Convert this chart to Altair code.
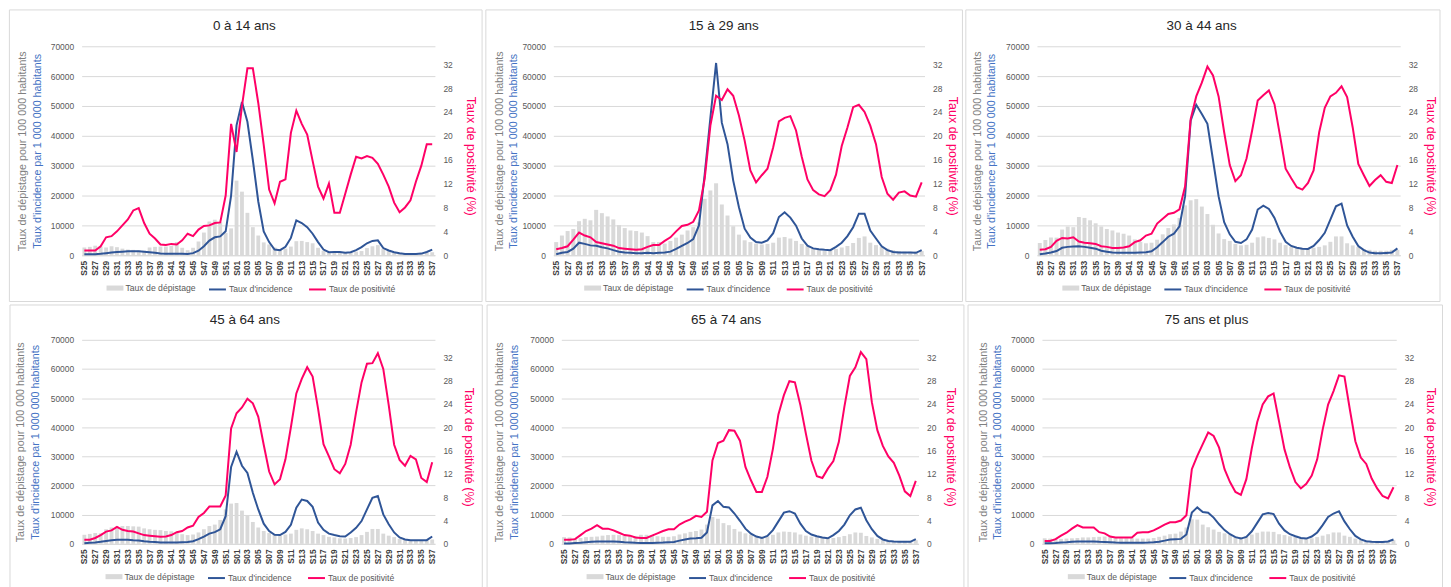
import altair as alt
import pandas as pd

FONT = "Liberation Sans"
GRAY_BAR = "#d9d9d9"
BLUE = "#2f5597"
BLUE_TITLE = "#4472c4"
PINK = "#ff0066"
TXT = "#595959"
TXT_TITLE = "#7f7f7f"

WEEKS = [f"2021-S{w:02d}" for w in range(25, 53)] + [f"2022-S{w:02d}" for w in range(1, 38)]
TICK_WEEKS = WEEKS[::2]

SERIES_DEP = "Taux de dépistage"
SERIES_INC = "Taux d'incidence"
SERIES_POS = "Taux de positivité"

TITLES = ["0 à 14 ans", "15 à 29 ans", "30 à 44 ans", "45 à 64 ans", "65 à 74 ans", "75 ans et plus"]

# ---- 0 à 14 ans
dep_0_14 = [2600, 2800, 3200, 2900, 2600, 3000, 2700, 2200, 1900, 1800,
            1600, 1500, 2600, 2800, 2900, 2900, 3200, 4400, 2500, 1700,
            2500, 4600, 7600, 11300, 11900, 11000, 7500, 9000, 25000, 21300,
            14200, 9400, 6600, 4300, 3600, 2600, 2000, 2200, 2900, 4700,
            4800, 4400, 4000, 2500, 1500, 1200, 1000, 1000, 900, 1000,
            1200, 1400, 2400, 3000, 3400, 2200, 1500, 1100, 800, 700,
            600, 600, 700, 800, 1000]
inc_0_14 = [300, 300, 350, 500, 700, 900, 1100, 1200, 1300, 1300,
            1300, 1200, 1000, 800, 600, 500, 500, 500, 500, 400,
            700, 1500, 3000, 4900, 6000, 6300, 8000, 20000, 43500, 51300,
            44700, 31900, 18000, 8000, 4400, 1900, 1700, 2800, 5800, 11700,
            10800, 9400, 7200, 4400, 1900, 1000, 1100, 1100, 800, 1000,
            1700, 2700, 4000, 4800, 5000, 2400, 1600, 1000, 700, 450,
            450, 450, 550, 1100, 1900]
pos_0_14 = [0.8, 0.8, 0.8, 1.5, 3.0, 3.2, 4.0, 5.0, 6.0, 7.5,
            7.9, 5.4, 3.6, 2.8, 1.8, 1.7, 1.9, 1.8, 2.5, 3.6,
            3.2, 4.3, 4.9, 5.0, 5.4, 5.5, 10.0, 22.0, 17.3, 25.0,
            31.3, 31.3, 25.5, 18.5, 11.0, 8.7, 12.3, 12.7, 20.5, 24.2,
            22.0, 20.2, 15.8, 11.5, 9.5, 12.0, 7.1, 7.1, 10.3, 13.5,
            16.5, 16.2, 16.6, 16.3, 15.3, 13.5, 11.5, 8.8, 7.2, 8.0,
            9.2, 12.3, 15.0, 18.6, 18.6]

# ---- 15 à 29 ans
dep_15_29 = [4400, 6600, 8100, 8800, 11400, 12200, 11700, 15200, 14100, 13000,
             12000, 10100, 9100, 8300, 8100, 7600, 6400, 4400, 4400, 3900,
             4800, 5900, 6900, 8300, 9400, 11000, 18900, 21700, 24100, 17000,
             13300, 9700, 6900, 5000, 4400, 3900, 3600, 3800, 4200, 5900,
             6100, 5600, 4800, 3800, 3000, 2200, 1900, 1400, 1700, 2100,
             2600, 3100, 4100, 5800, 6300, 4200, 3400, 2800, 2200, 1700,
             1400, 1200, 1200, 1200, 1400]
inc_15_29 = [300, 800, 1100, 2200, 4200, 3800, 3300, 3200, 2700, 2300,
             1700, 1200, 900, 800, 700, 700, 800, 700, 800, 900,
             1200, 2100, 3100, 4100, 5400, 10000, 27000, 46000, 64400, 44400,
             37200, 25000, 16100, 8900, 5900, 4400, 4200, 5000, 7400, 12800,
             14400, 12600, 9900, 5600, 3200, 2300, 2000, 1800, 1700, 2800,
             4200, 6400, 9400, 13900, 13900, 8300, 5600, 3000, 1700, 1100,
             900, 900, 900, 800, 1700]
pos_15_29 = [1.0, 1.2, 1.5, 2.6, 3.8, 3.3, 3.0, 2.2, 2.0, 1.8,
             1.6, 1.2, 1.1, 1.0, 0.9, 1.0, 1.4, 1.7, 1.7, 2.4,
             3.0, 4.0, 4.9, 5.1, 5.6, 7.5, 12.8, 21.7, 26.7, 26.0,
             27.8, 26.7, 23.4, 19.2, 14.2, 12.2, 13.4, 14.5, 18.1, 22.4,
             23.0, 23.3, 20.9, 16.5, 12.7, 10.9, 10.2, 9.9, 10.9, 13.5,
             18.3, 21.4, 24.8, 25.2, 24.0, 21.7, 18.6, 13.1, 10.3, 9.3,
             10.5, 10.7, 10.0, 9.8, 12.2]

# ---- 30 à 44 ans
dep_30_44 = [4100, 5100, 5900, 5900, 8600, 9600, 9400, 12800, 12500, 11700,
             10700, 9600, 8800, 8300, 7600, 7200, 6600, 5300, 4500, 4000,
             4200, 5200, 7000, 9100, 10300, 12500, 16700, 18400, 18800, 16300,
             13800, 10200, 7300, 5400, 4800, 3800, 3300, 3500, 4200, 6000,
             6300, 5800, 5300, 4200, 3400, 2900, 2700, 2200, 2300, 2500,
             2800, 3300, 4500, 6300, 6300, 4000, 3300, 2800, 2100, 1800,
             1500, 1500, 1500, 1800, 1800]
inc_30_44 = [300, 550, 900, 1400, 2500, 2800, 2900, 3000, 2800, 2500,
             2200, 1500, 1200, 900, 800, 800, 800, 800, 900, 1000,
             1300, 2700, 4400, 6200, 7200, 9700, 19700, 45100, 50400, 47300,
             44000, 31900, 19700, 11100, 7000, 4500, 4100, 5300, 8600, 15300,
             16600, 15500, 12500, 7900, 4500, 3100, 2500, 2200, 2100, 3100,
             5100, 7500, 11900, 16400, 17300, 10000, 6200, 3100, 1700, 900,
             660, 660, 770, 900, 2300]
pos_30_44 = [0.9, 1.0, 1.4, 2.4, 2.9, 2.8, 3.0, 2.3, 2.1, 2.0,
             1.9, 1.5, 1.4, 1.2, 1.2, 1.3, 1.5, 2.2, 2.5, 3.3,
             3.6, 5.3, 6.1, 6.9, 7.1, 7.7, 11.5, 22.8, 26.6, 28.9,
             31.6, 30.1, 26.6, 20.6, 15.1, 12.4, 13.4, 16.2, 20.9, 25.9,
             26.8, 27.6, 25.3, 20.0, 14.5, 12.9, 11.4, 11.0, 12.1, 14.2,
             20.6, 24.7, 26.6, 27.2, 28.3, 26.5, 21.4, 15.3, 13.4, 11.6,
             12.6, 13.4, 12.3, 12.1, 15.1]

# ---- 45 à 64 ans
dep_45_64 = [3100, 3400, 3700, 3600, 5000, 5600, 5900, 6100, 6100, 6000,
             5900, 5300, 5000, 4800, 4700, 4400, 4300, 3700, 3300, 3000,
             3200, 3900, 5000, 6100, 6600, 8200, 11800, 13800, 14000, 11400,
             9800, 7500, 5600, 4400, 3700, 3100, 2800, 3200, 3500, 4800,
             5300, 5000, 4400, 3500, 3000, 2400, 2200, 1900, 1800, 2000,
             2300, 3000, 4100, 5100, 5100, 3500, 2800, 2300, 1700, 1400,
             1200, 1200, 1200, 1200, 1500]
inc_45_64 = [200, 350, 450, 700, 1000, 1250, 1400, 1400, 1400, 1250,
             1150, 900, 700, 600, 450, 450, 450, 450, 550, 650,
             900, 1600, 2500, 3500, 4000, 5000, 9500, 26400, 31600, 26800,
             24300, 17500, 11800, 6900, 4400, 3100, 3000, 4100, 6500, 12400,
             15200, 14700, 12700, 7300, 4800, 3500, 3000, 2600, 2500, 3900,
             5500, 7800, 11800, 15800, 16400, 10100, 6700, 3900, 2200, 1500,
             1250, 1250, 1250, 1250, 2500]
pos_45_64 = [0.7, 0.7, 1.0, 1.5, 2.1, 2.3, 2.9, 2.4, 2.2, 2.1,
             1.8, 1.5, 1.4, 1.3, 1.2, 1.25, 1.5, 2.0, 2.2, 2.8,
             3.1, 4.6, 5.3, 6.4, 6.4, 6.4, 8.3, 19.8, 22.4, 23.4,
             24.9, 24.1, 21.8, 17.0, 12.4, 10.2, 11.1, 14.5, 20.0, 25.8,
             28.3, 30.3, 28.7, 23.2, 17.1, 15.0, 12.8, 12.1, 13.7, 17.0,
             22.6, 27.7, 30.9, 31.0, 32.7, 30.0, 23.8, 17.0, 14.4, 13.4,
             15.1, 14.5, 11.3, 10.6, 14.0]

# ---- 65 à 74 ans
dep_65_74 = [2300, 2200, 1900, 2000, 2300, 2400, 2500, 2800, 3000, 3100,
             3000, 2700, 2600, 2700, 3100, 3100, 3000, 2600, 2400, 2400,
             2600, 3200, 3600, 4100, 4400, 4900, 6600, 9200, 8600, 7100,
             6400, 5100, 4200, 3600, 3200, 2600, 2400, 2500, 3100, 3900,
             4200, 4100, 3900, 3200, 2800, 2500, 2400, 2200, 2000, 2000,
             2300, 2700, 3300, 3900, 3800, 2700, 2200, 1700, 1250, 1000,
             1000, 1000, 1000, 1000, 1250]
inc_65_74 = [100, 150, 250, 350, 550, 700, 800, 800, 800, 800,
             700, 550, 450, 350, 300, 300, 300, 400, 450, 550,
             650, 1100, 1500, 1800, 1900, 2100, 3900, 13200, 14700, 12700,
             12500, 10400, 7900, 5200, 3500, 2500, 2000, 2700, 4700, 7700,
             10700, 11200, 10400, 6900, 4400, 3200, 2600, 2200, 1900, 3000,
             4400, 6600, 9800, 11800, 12400, 8100, 5000, 2700, 1500, 1000,
             800, 700, 700, 700, 1600]
pos_65_74 = [0.7, 0.7, 0.8, 1.5, 2.2, 2.6, 3.2, 2.6, 2.6, 2.3,
             1.9, 1.5, 1.4, 1.1, 1.0, 1.0, 1.4, 1.8, 2.2, 2.5,
             2.5, 3.3, 3.8, 4.2, 4.8, 4.6, 5.5, 14.3, 17.3, 17.7,
             19.5, 19.4, 17.7, 13.2, 10.9, 8.9, 8.9, 11.5, 16.3, 22.2,
             25.5, 27.9, 27.7, 23.8, 18.9, 14.3, 11.6, 11.3, 12.9, 14.2,
             17.5, 23.5, 28.8, 30.3, 32.9, 31.7, 24.3, 19.5, 16.8, 15.0,
             13.9, 11.7, 9.0, 8.2, 10.8]

# ---- 75 ans et plus
dep_75p = [1900, 1800, 1700, 1700, 1800, 1900, 2000, 2200, 2200, 2300,
           2400, 2500, 2300, 2000, 1900, 1900, 1900, 1800, 1800, 1800,
           2000, 2400, 2800, 3300, 3500, 4200, 5600, 8400, 8300, 6600,
           5700, 4900, 4100, 3600, 3200, 2500, 2300, 2500, 3200, 3800,
           4200, 4200, 4100, 3300, 3000, 2600, 2400, 2200, 1900, 1900,
           2300, 2800, 3300, 3900, 3900, 2800, 2400, 1800, 1400, 1100,
           1000, 1000, 1000, 1000, 1250]
inc_75p = [200, 200, 300, 450, 550, 700, 800, 800, 800, 800,
           700, 650, 550, 450, 400, 400, 400, 400, 400, 450,
           550, 750, 1100, 1500, 1600, 1700, 3200, 10700, 12500, 10900,
           10700, 9000, 6700, 4700, 3300, 2300, 1800, 2400, 4300, 7200,
           10100, 10600, 10200, 6900, 4600, 3300, 2600, 2000, 1800, 2500,
           3900, 6400, 9200, 10400, 11200, 7700, 5000, 2700, 1500, 900,
           700, 650, 650, 800, 1500]
pos_75p = [0.5, 0.5, 0.8, 1.4, 1.9, 2.6, 3.2, 2.8, 2.8, 2.8,
           2.0, 1.8, 1.25, 1.1, 1.1, 1.1, 1.1, 1.9, 2.0, 2.0,
           2.3, 2.8, 3.3, 3.7, 3.7, 4.0, 4.9, 12.8, 15.1, 17.1,
           19.1, 18.5, 16.5, 12.8, 10.6, 8.9, 8.4, 11.1, 16.4, 20.9,
           23.9, 25.3, 25.8, 21.0, 16.2, 13.1, 10.6, 9.5, 10.3, 11.7,
           14.5, 19.6, 23.9, 26.2, 28.9, 28.7, 23.0, 17.6, 14.8, 13.7,
           11.2, 9.5, 8.2, 7.8, 9.7]

DATA = [
    (dep_0_14, inc_0_14, pos_0_14),
    (dep_15_29, inc_15_29, pos_15_29),
    (dep_30_44, inc_30_44, pos_30_44),
    (dep_45_64, inc_45_64, pos_45_64),
    (dep_65_74, inc_65_74, pos_65_74),
    (dep_75p, inc_75p, pos_75p),
]

# layout per panel: plot w, h, margins L/R/T/B to the frame, title centres
LAYOUT = [
    dict(w=355, h=210, L=72.6, R=47.4, T=36.5, B=46.5, gc=58.9, bc=44.6, pc=34.6, tx=163.4, l1=25, l2=127),
    dict(w=373, h=210, L=67.8, R=38.1, T=36.5, B=46.5, gc=53.8, bc=39.8, pc=27.0, tx=171.2, l1=31, l2=133),
    dict(w=365, h=210, L=71.5, R=40.0, T=36.5, B=46.5, gc=59.5, bc=45.2, pc=28.8, tx=165.5, l1=25.5, l2=127),
    dict(w=355, h=205, L=72.0, R=47.6, T=35.0, B=52.0, gc=61.0, bc=46.7, pc=33.0, tx=164.0, l1=24, l2=126),
    dict(w=359, h=205, L=74.6, R=45.6, T=35.0, B=52.0, gc=61.6, bc=46.6, pc=31.3, tx=165.7, l1=25.4, l2=127.4),
    dict(w=356, h=205, L=74.3, R=46.5, T=35.0, B=52.0, gc=59.0, bc=44.6, pc=33.0, tx=165.4, l1=26, l2=127),
]

LABEL_EXT_L = 33
LABEL_EXT_R = 18
LEFT_TITLE_FS = 10.8
RIGHT_TITLE_FS = 12.6


def panel(title, data, lay):
    dep, inc, pos = data
    df = pd.DataFrame({"week": WEEKS, "dep": dep, "inc": inc, "pos": pos})
    df["s_dep"] = SERIES_DEP
    df["s_inc"] = SERIES_INC
    df["s_pos"] = SERIES_POS
    base = alt.Chart(df)
    w, h = lay["w"], lay["h"]

    x = alt.X("week:N", sort=WEEKS, scale=alt.Scale(paddingInner=0.3),
              axis=alt.Axis(values=TICK_WEEKS, labelExpr="substring(datum.value, 5)",
                            title=None, labelAngle=270, labelFontSize=8.5, labelFontWeight="bold",
                            labelColor="#404040", labelPadding=5, ticks=False, grid=False,
                            domain=True, domainColor="#d9d9d9", labelOverlap=False))

    stroke_legend = alt.Legend(orient="none", legendX=lay["l2"], legendY=h + 24.5,
                               direction="horizontal", title=None, symbolType="stroke",
                               symbolSize=289, symbolStrokeWidth=2, labelFontSize=8.7,
                               labelColor=TXT, labelFont=FONT, labelOffset=2,
                               columnPadding=12.5, padding=0)
    stroke_scale = alt.Scale(domain=[SERIES_INC, SERIES_POS], range=[BLUE, PINK])

    bars = base.mark_bar(color=GRAY_BAR).encode(
        x=x,
        y=alt.Y("dep:Q", scale=alt.Scale(domain=[0, 70000], nice=False),
                axis=alt.Axis(orient="left", values=list(range(0, 70001, 10000)), format="d",
                              grid=True, gridColor="#d9d9d9", domain=False, ticks=False,
                              labelFontSize=8.5, labelColor=TXT, labelPadding=8,
                              minExtent=LABEL_EXT_L, maxExtent=LABEL_EXT_L,
                              title="Taux de dépistage pour 100 000 habitants",
                              titleColor=TXT_TITLE, titleFontSize=LEFT_TITLE_FS,
                              titleFontWeight="normal",
                              titlePadding=lay["gc"] - 0.46 * LEFT_TITLE_FS - LABEL_EXT_L)),
        fill=alt.Fill("s_dep:N", scale=alt.Scale(domain=[SERIES_DEP], range=[GRAY_BAR]),
                      legend=alt.Legend(orient="none", legendX=lay["l1"], legendY=h + 24.5,
                                        direction="horizontal", title=None,
                                        symbolType="M-1,-0.3H1V0.3H-1Z", symbolSize=289,
                                        symbolStrokeWidth=0, labelFontSize=8.7, labelColor=TXT,
                                        labelFont=FONT, labelOffset=2, padding=0)),
    )

    line_inc = base.mark_line(strokeWidth=2).encode(
        x=x,
        y=alt.Y("inc:Q", scale=alt.Scale(domain=[0, 70000], nice=False),
                axis=alt.Axis(orient="left", labels=False, ticks=False, domain=False, grid=False,
                              minExtent=0, maxExtent=0,
                              title="Taux d'incidence par 1 000 000 habitants",
                              titleColor=BLUE_TITLE, titleFontSize=LEFT_TITLE_FS,
                              titleFontWeight="normal",
                              titlePadding=lay["bc"] - 0.46 * LEFT_TITLE_FS)),
        stroke=alt.Stroke("s_inc:N", scale=stroke_scale, legend=stroke_legend),
    )

    line_pos = base.mark_line(strokeWidth=2).encode(
        x=x,
        y=alt.Y("pos:Q", scale=alt.Scale(domain=[0, 35], nice=False),
                axis=alt.Axis(orient="right", values=list(range(0, 33, 4)), grid=False,
                              domain=False, ticks=False, labelFontSize=8.5, labelColor=TXT,
                              labelPadding=8, minExtent=LABEL_EXT_R, maxExtent=LABEL_EXT_R,
                              title="Taux de positivité (%)", titleColor=PINK,
                              titleFontSize=RIGHT_TITLE_FS, titleFontWeight="normal",
                              titleY=h / 2 + 5,
                              titlePadding=lay["pc"] - 0.46 * RIGHT_TITLE_FS - LABEL_EXT_R)),
        stroke=alt.Stroke("s_pos:N", scale=stroke_scale, legend=stroke_legend),
    )

    frame = alt.Chart(alt.Data(values=[{"k": 1}])).mark_rect(
        fillOpacity=0, stroke="#d9d9d9", strokeWidth=1
    ).encode(
        x=alt.value(-lay["L"]), x2=alt.value(w + lay["R"]),
        y=alt.value(-lay["T"]), y2=alt.value(h + lay["B"]),
    )

    head = alt.Chart(alt.Data(values=[{"t": title}])).mark_text(
        font=FONT, fontSize=13.5, color="#262626", align="center", baseline="middle"
    ).encode(x=alt.value(lay["tx"]), y=alt.value(-20), text="t:N")

    return alt.layer(frame, bars, line_inc, line_pos, head).resolve_scale(
        y="independent"
    ).properties(width=w, height=h)


panels = [panel(TITLES[i], DATA[i], LAYOUT[i]) for i in range(6)]


def indep(c):
    return c.resolve_scale(fill="independent", stroke="independent").resolve_legend(
        fill="independent", stroke="independent")


row1 = indep(alt.hconcat(panels[0], panels[1], panels[2], spacing=2))
row2 = indep(alt.hconcat(panels[3], panels[4], panels[5], spacing=2))
chart = indep(alt.vconcat(row1, row2, spacing=2)).properties(
    padding=0, background="white"
).configure(font=FONT).configure_view(stroke=None)

chart.save("out.html", embed_options={"renderer": "svg", "actions": False})
